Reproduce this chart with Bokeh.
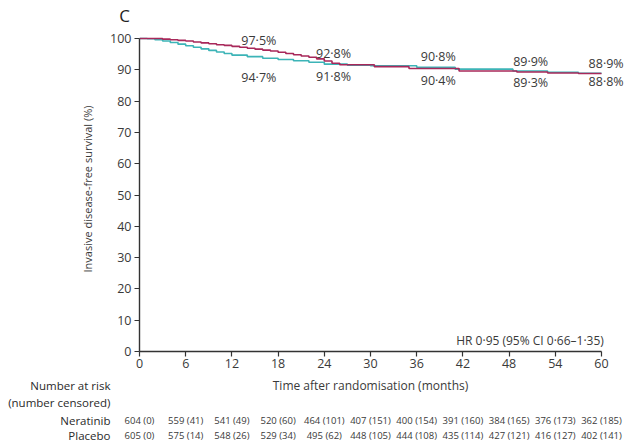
from bokeh.plotting import figure
from bokeh.models import Range1d, FixedTicker
from bokeh.layouts import column
from bokeh.core.properties import value
from bokeh.embed import file_html
from bokeh.resources import INLINE

# Kaplan-Meier step data
ner_t = [0, 3, 4, 5, 6, 7, 8, 9, 10, 11, 12, 13, 14, 15, 16, 17, 18, 19, 20, 21, 22, 23, 24, 25, 26, 30.5, 35, 41.5, 49, 53, 57, 60]
ner_s = [100, 99.8, 99.6, 99.4, 99.2, 98.9, 98.6, 98.3, 98.0, 97.8, 97.5, 97.2, 96.9, 96.6, 96.3, 96.0, 95.6, 95.2, 94.8, 94.4, 94.0, 93.5, 92.8, 92.1, 91.6, 91.0, 90.4, 89.6, 89.3, 89.0, 88.8, 88.8]
pla_t = [0, 1, 2, 3, 4, 5, 6, 7, 8, 9, 10, 11, 12, 14, 16, 18, 20, 22, 24, 27, 30, 36, 41, 48.5, 53, 57, 60]
pla_s = [100, 99.9, 99.6, 99.2, 98.7, 98.2, 97.7, 97.2, 96.7, 96.2, 95.7, 95.2, 94.7, 94.2, 93.7, 93.3, 92.9, 92.4, 91.8, 91.5, 91.3, 90.8, 90.2, 89.6, 89.2, 88.9, 88.9]

# Curve annotations
ann_x = [15.5, 15.5, 25.2, 25.2, 38.8, 38.8, 50.8, 50.8, 60.6, 60.6]
ann_y = [99.4, 87.5, 95.2, 87.9, 94.2, 86.6, 92.7, 85.9, 92.0, 86.3]
ann_text = ["97·5%", "94·7%", "92·8%", "91·8%", "90·8%", "90·4%", "89·9%", "89·3%", "88·9%", "88·8%"]

# Number at risk table
risk_months = [0, 6, 12, 18, 24, 30, 36, 42, 48, 54, 60]
risk_neratinib = ["604 (0)", "559 (41)", "541 (49)", "520 (60)", "464 (101)", "407 (151)", "400 (154)", "391 (160)", "384 (165)", "376 (173)", "362 (185)"]
risk_placebo = ["605 (0)", "575 (14)", "548 (26)", "529 (34)", "495 (62)", "448 (105)", "444 (108)", "435 (114)", "427 (121)", "416 (127)", "402 (141)"]
row_labels = ["Number at risk", "(number censored)", "Neratinib", "Placebo"]

x_ticks = list(range(0, 61, 6))
y_ticks = list(range(0, 101, 10))

RED = "#a8285a"
TEAL = "#3cb4b7"
TXT = "#3a3a3a"
FONT = "Open Sans"

W = 632
LEFT = 139          # frame left (px)
PXM = 7.7           # px per month
X0 = -LEFT / PXM
X1 = (W - LEFT) / PXM

TOTAL_H = 444
TOP_H = 26
MAIN_FRAME_H = 325
MAIN_BOTTOM = 23
MAIN_H = MAIN_FRAME_H + MAIN_BOTTOM
BOT_H = TOTAL_H - TOP_H - MAIN_H
Y_TOP = 100 + 12 / 3.13


def strip(h):
    f = figure(width=W, height=h, output_backend="svg", toolbar_location=None,
               x_range=Range1d(X0, X1), y_range=Range1d(h, 0),
               x_axis_type=None, y_axis_type=None, frame_align=False,
               min_border_left=0, min_border_right=0, min_border_top=0, min_border_bottom=0)
    f.outline_line_color = None
    f.grid.visible = False
    return f


# ---- top strip with panel letter
top = strip(TOP_H)
top.text(x=[-1.95], y=[15], text=["C"], text_align="center", text_baseline="middle",
         text_font=value(FONT), text_font_size="17px", text_color="#222222")

# ---- main KM plot
p = figure(width=W, height=MAIN_H, output_backend="svg", toolbar_location=None,
           x_range=Range1d(0, X1), y_range=Range1d(0, Y_TOP), frame_align=False,
           min_border_left=LEFT, min_border_right=0, min_border_top=0,
           min_border_bottom=MAIN_BOTTOM)
p.outline_line_color = None
p.grid.visible = False

p.step(pla_t, pla_s, mode="after", line_color=TEAL, line_width=1.6)
p.step(ner_t, ner_s, mode="after", line_color=RED, line_width=1.6)

for ax in (p.xaxis[0], p.yaxis[0]):
    ax.axis_line_color = "#333333"
    ax.axis_line_width = 1.4
    ax.major_tick_line_color = "#333333"
    ax.major_tick_line_width = 1.2
    ax.major_tick_in = 0
    ax.major_tick_out = 5
    ax.minor_tick_line_color = None
    ax.major_label_text_font = FONT
    ax.major_label_text_font_size = "12.5px"
    ax.major_label_text_color = TXT
    ax.axis_label_text_font = FONT
    ax.axis_label_text_font_style = "normal"
    ax.axis_label_text_color = TXT

p.xaxis[0].ticker = FixedTicker(ticks=x_ticks)
p.xaxis[0].bounds = (0, 60)
p.xaxis[0].major_label_standoff = 2
p.yaxis[0].ticker = FixedTicker(ticks=y_ticks)
p.yaxis[0].bounds = (0, 100)
p.yaxis[0].axis_label = "Invasive disease-free survival (%)"
p.yaxis[0].axis_label_text_font_size = "11px"
p.yaxis[0].axis_label_standoff = 12
p.yaxis[0].major_label_standoff = 3

p.text(x=ann_x, y=ann_y, text=ann_text, text_align="center", text_baseline="middle",
       text_font=value(FONT), text_font_size="12.5px", text_color=TXT)
p.text(x=[60.3], y=[3.6], text=["HR 0·95 (95% CI 0·66–1·35)"], text_align="right",
       text_baseline="middle", text_font=value(FONT), text_font_size="12px", text_color=TXT)

# ---- bottom strip: x-axis title and number-at-risk table
bot = strip(BOT_H)
bot.text(x=[30], y=[11], text=["Time after randomisation (months)"], text_align="center",
         text_baseline="middle", text_font=value(FONT), text_font_size="12px", text_color=TXT)

row_label_y = [11, 28, 46, 61]
bot.text(x=[-3.77] * 4, y=row_label_y, text=row_labels, text_align="right",
         text_baseline="middle", text_font=value(FONT), text_font_size="11.5px",
         text_color="#2a2a2a")

bot.text(x=risk_months, y=[46] * len(risk_months), text=risk_neratinib, text_align="center",
         text_baseline="middle", text_font=value(FONT), text_font_size="9.5px", text_color=TXT)
bot.text(x=risk_months, y=[61] * len(risk_months), text=risk_placebo, text_align="center",
         text_baseline="middle", text_font=value(FONT), text_font_size="9.5px", text_color=TXT)

layout = column(top, p, bot, spacing=0)
open("out.html", "w").write(file_html(layout, INLINE))
